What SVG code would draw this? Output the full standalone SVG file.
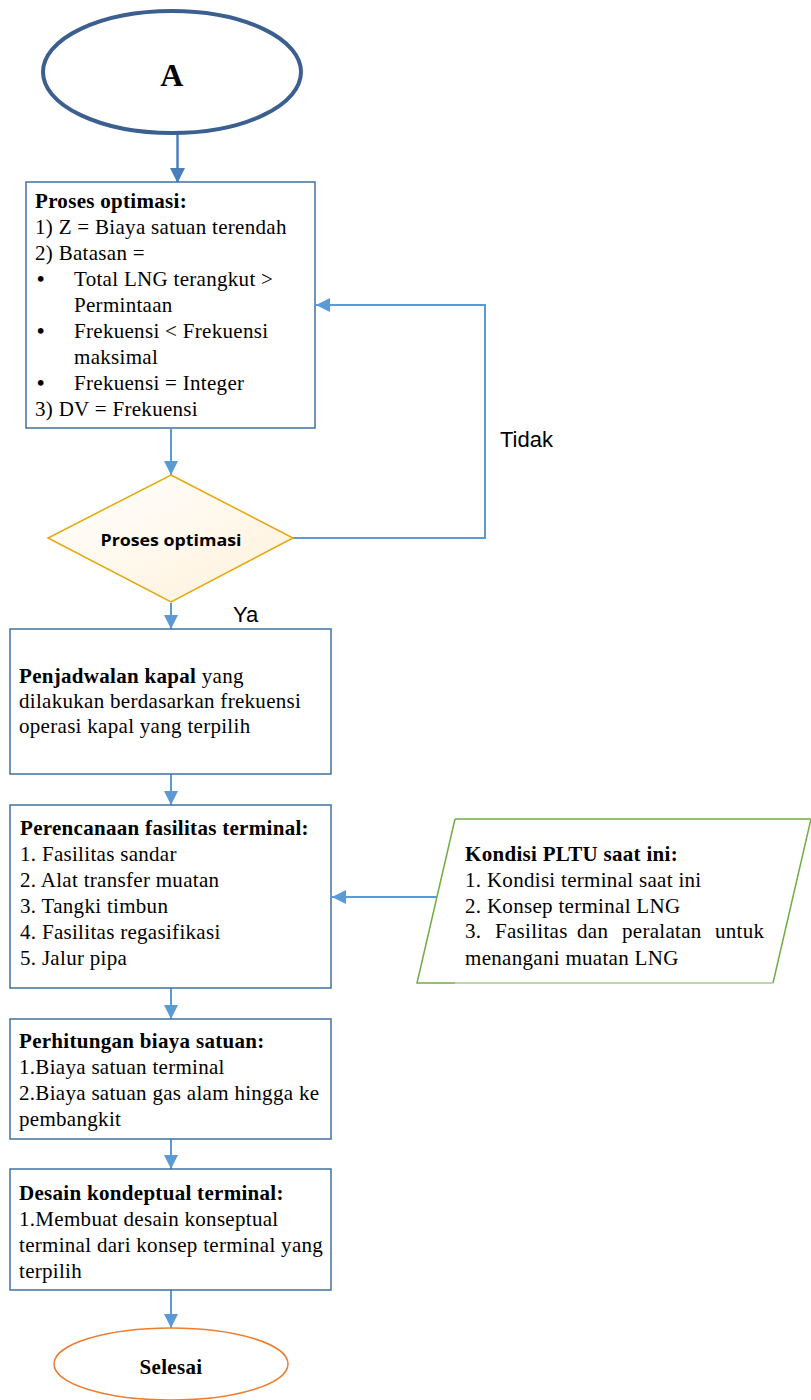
<svg xmlns="http://www.w3.org/2000/svg" width="811" height="1400" viewBox="0 0 811 1400">
<style>
.box{fill:#ffffff;stroke:#41719C;stroke-width:1.5}
.conn{fill:none;stroke:#5B9BD5;stroke-width:2}
.t{font-family:"Liberation Serif","Times New Roman",serif;font-size:21px;letter-spacing:0.3px;fill:#000}
.b{font-weight:bold}
.s{font-family:"Liberation Sans",Arial,sans-serif;font-size:22px;fill:#000}
</style>
<defs>
<marker id="ah" viewBox="0 0 10 10" refX="10" refY="5" markerWidth="14" markerHeight="14" markerUnits="userSpaceOnUse" orient="auto">
<path d="M0,0 L10,5 L0,10 z" fill="#5B9BD5"/>
</marker>
<marker id="ahd" viewBox="0 0 10 10" refX="10" refY="5" markerWidth="15" markerHeight="15" markerUnits="userSpaceOnUse" orient="auto">
<path d="M0,0 L10,5 L0,10 z" fill="#4A7EBB"/>
</marker>
<linearGradient id="dg" x1="0" y1="0" x2="1" y2="1">
<stop offset="0" stop-color="#ffffff"/>
<stop offset="1" stop-color="#FFF1DA"/>
</linearGradient>
</defs>

<g id="connectors">
<line x1="177.5" y1="134" x2="177.5" y2="183" stroke="#4A7EBB" stroke-width="2.5" marker-end="url(#ahd)"/>
<line class="conn" x1="171" y1="429" x2="171" y2="475" marker-end="url(#ah)"/>
<line class="conn" x1="171" y1="603" x2="171" y2="629" marker-end="url(#ah)"/>
<line class="conn" x1="171" y1="774" x2="171" y2="805" marker-end="url(#ah)"/>
<line class="conn" x1="171" y1="988" x2="171" y2="1019" marker-end="url(#ah)"/>
<line class="conn" x1="171" y1="1139" x2="171" y2="1169" marker-end="url(#ah)"/>
<line class="conn" x1="171" y1="1290" x2="171" y2="1328" marker-end="url(#ah)"/>
<polyline class="conn" points="293,538 485,538 485,305 316,305" marker-end="url(#ah)"/>
<line class="conn" x1="437" y1="897" x2="332" y2="897" marker-end="url(#ah)"/>
<text class="s" x="500" y="447">Tidak</text>
<text class="s" x="233" y="622">Ya</text>
</g>

<g id="start">
<ellipse cx="172" cy="72" rx="129" ry="61" fill="#ffffff" stroke="#3B5F8E" stroke-width="4"/>
<text class="t b" x="172" y="86" text-anchor="middle" style="font-size:32px">A</text>
</g>

<g id="box1">
<rect class="box" x="26" y="182" width="289" height="246"/>
<text class="t b" x="35" y="208">Proses optimasi:</text>
<text class="t" x="35" y="234">1) Z = Biaya satuan terendah</text>
<text class="t" x="35" y="260">2) Batasan =</text>
<text class="t b" x="37" y="286">•</text>
<text class="t" x="74" y="286">Total LNG terangkut &gt;</text>
<text class="t" x="74" y="312">Permintaan</text>
<text class="t b" x="37" y="338">•</text>
<text class="t" x="74" y="338">Frekuensi &lt; Frekuensi</text>
<text class="t" x="74" y="364">maksimal</text>
<text class="t b" x="37" y="390">•</text>
<text class="t" x="74" y="390">Frekuensi = Integer</text>
<text class="t" x="35" y="416">3) DV = Frekuensi</text>
</g>

<g id="decision">
<polygon points="171,475 293,538 171,602 48,538" fill="url(#dg)" stroke="#E5A80A" stroke-width="1.5"/>
<text x="171" y="546" text-anchor="middle" textLength="141" lengthAdjust="spacingAndGlyphs" style="font-family:'Open Sans','Liberation Sans',sans-serif;font-weight:bold;font-size:16px;fill:#000">Proses optimasi</text>
</g>

<g id="box2">
<rect class="box" x="10" y="629" width="321" height="145"/>
<text class="t" x="19" y="683"><tspan class="b">Penjadwalan kapal</tspan> yang</text>
<text class="t" x="19" y="708">dilakukan berdasarkan frekuensi</text>
<text class="t" x="19" y="733">operasi kapal yang terpilih</text>
</g>

<g id="box3">
<rect class="box" x="10" y="805" width="321" height="183"/>
<text class="t b" x="20" y="835">Perencanaan fasilitas terminal:</text>
<text class="t" x="20" y="861">1. Fasilitas sandar</text>
<text class="t" x="20" y="887">2. Alat transfer muatan</text>
<text class="t" x="20" y="913">3. Tangki timbun</text>
<text class="t" x="20" y="939">4. Fasilitas regasifikasi</text>
<text class="t" x="20" y="965">5. Jalur pipa</text>
</g>

<g id="input">
<path d="M455,819 L811,819 L773,983" fill="#ffffff" stroke="#70AD47" stroke-width="1.5"/>
<path d="M455,983 L417,983 L455,819" fill="none" stroke="#70AD47" stroke-width="1.5"/>
<line x1="455" y1="983" x2="773" y2="983" stroke="#A9C98F" stroke-width="1.5"/>
<text class="t b" x="465" y="861">Kondisi PLTU saat ini:</text>
<text class="t" x="465" y="887">1. Kondisi terminal saat ini</text>
<text class="t" x="465" y="913">2. Konsep terminal LNG</text>
<text class="t" y="938"><tspan x="465">3.</tspan><tspan x="495">Fasilitas</tspan><tspan x="577">dan</tspan><tspan x="622">peralatan</tspan><tspan x="715">untuk</tspan></text>
<text class="t" x="465" y="965">menangani muatan LNG</text>
</g>

<g id="box4">
<rect class="box" x="10" y="1019" width="321" height="120"/>
<text class="t b" x="19" y="1048">Perhitungan biaya satuan:</text>
<text class="t" x="19" y="1074">1.Biaya satuan terminal</text>
<text class="t" x="19" y="1100">2.Biaya satuan gas alam hingga ke</text>
<text class="t" x="19" y="1126">pembangkit</text>
</g>

<g id="box5">
<rect class="box" x="10" y="1169" width="321" height="121"/>
<text class="t b" x="19" y="1200">Desain kondeptual terminal:</text>
<text class="t" x="19" y="1226">1.Membuat desain konseptual</text>
<text class="t" x="19" y="1252">terminal dari konsep terminal yang</text>
<text class="t" x="19" y="1278">terpilih</text>
</g>

<g id="end">
<ellipse cx="171" cy="1364" rx="117" ry="36" fill="#ffffff" stroke="#ED7D31" stroke-width="1.5"/>
<text class="t b" x="171" y="1374" text-anchor="middle">Selesai</text>
</g>
</svg>
